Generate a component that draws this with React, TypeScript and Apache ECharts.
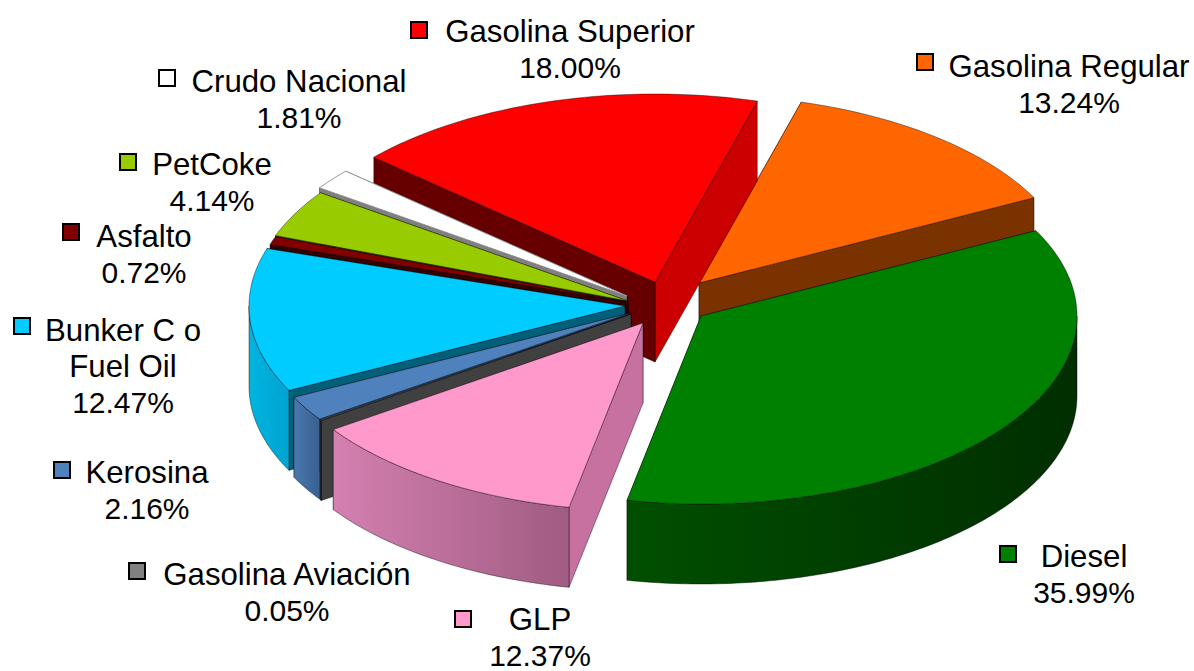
import React, { useEffect, useRef } from "react";
import * as echarts from "echarts";

// Data, in the pie's clockwise order
const categories = [
  "Diesel", "GLP", "Gasolina Aviación", "Kerosina", "Bunker C o\nFuel Oil",
  "Asfalto", "PetCoke", "Crudo Nacional", "Gasolina Superior", "Gasolina Regular",
];
const values = [35.99, 12.37, 0.05, 2.16, 12.47, 0.72, 4.14, 1.81, 18.0, 13.24];

// Styling
const topColors = ["#008000", "#ff99cc", "#808080", "#4f81bd", "#00ccff", "#800000", "#99cc00", "#ffffff", "#ff0000", "#ff6600"];
const rimColors: [string, string][] = [
  ["#004f00", "#002e00"], ["#d480b0", "#a05c82"], ["#404040", "#404040"], ["#4a78ae", "#386090"],
  ["#00b4e0", "#00a4d0"], ["#330000", "#330000"], ["#5c7a00", "#5c7a00"], ["#999999", "#999999"],
  ["#800000", "#800000"], ["#7a3300", "#7a3300"],
];
const startFaceColors = ["#004400", "#c6719f", "#404040", "#3a6090", "#00607a", "#330000", "#4d6600", "#808080", "#660000", "#7a3300"];
const endFaceColors = ["#004400", "#c6719f", "#404040", "#3a6090", "#00607a", "#330000", "#4d6600", "#808080", "#cc0000", "#7a3300"];
const sliceShift: [number, number][] = [
  [29, 16], [-29, 23], [-41, 14], [-42, 13], [-47, 6], [-44, 2], [-44, 1], [-45, -4], [-17, -18], [27, -17],
];
const paintOrder = [9, 8, 7, 6, 5, 4, 3, 2, 1, 0];
const labelCenters: [number, number][] = [
  [1084, 574], [540, 637], [287, 592], [147, 490], [123, 366], [144, 254], [212, 182], [299, 99], [570, 49], [1069, 84],
];
const keyCenters: [number, number][] = [
  [1008, 554], [463, 619], [137, 571], [62, 470], [22, 326], [71, 232], [128, 162], [167, 78], [419, 30], [925, 62],
];

const CX = 672, CY = 300, RX = 376, RY = 188, DEPTH = 80, START = -27;
const LINE_HEIGHT = 36;
const total = values.reduce((a, b) => a + b, 0);

function renderItem(_params: any, api: any) {
  const i = api.value(0);
  const before = values.slice(0, i).reduce((a, b) => a + b, 0);
  const a0 = START + (before / total) * 360;
  const a1 = a0 + (api.value(1) / total) * 360;
  const ox = CX + sliceShift[i][0], oy = CY + sliceShift[i][1];
  const pt = (deg: number, d = 0): number[] => {
    const t = (deg * Math.PI) / 180;
    return [ox + RX * Math.cos(t), oy + RY * Math.sin(t) + d];
  };
  const arc = (from: number, to: number, d = 0) => {
    const n = Math.max(2, Math.ceil(Math.abs(to - from)));
    return Array.from({ length: n + 1 }, (_, k) => pt(from + ((to - from) * k) / n, d));
  };
  const edge = "rgba(0,0,0,0.4)";
  const face = (deg: number, fill: string) => ({
    type: "polygon",
    shape: { points: [[ox, oy], pt(deg), pt(deg, DEPTH), [ox, oy + DEPTH]] },
    style: { fill, stroke: edge, lineWidth: 1 },
  });
  // The cut face nearer the viewer is painted last
  const sin = (deg: number) => Math.sin((deg * Math.PI) / 180);
  const startFace = face(a0, startFaceColors[i]);
  const endFace = face(a1, endFaceColors[i]);
  const children: any[] = sin(a0) > sin(a1) ? [endFace, startFace] : [startFace, endFace];
  // Outer wall: only the part of the arc facing the viewer
  const frontParts: [number, number][] = [];
  for (let base = -360; base <= 360; base += 360) {
    const f = Math.max(a0, base), t = Math.min(a1, base + 180);
    if (t > f) frontParts.push([f, t]);
  }
  frontParts.forEach(([f, t]) => {
    children.push({
      type: "polygon",
      shape: { points: [...arc(f, t), ...arc(t, f, DEPTH)] },
      style: {
        fill: new echarts.graphic.LinearGradient(0, 0, 1, 0, [
          { offset: 0, color: rimColors[i][0] },
          { offset: 1, color: rimColors[i][1] },
        ]),
        stroke: edge,
        lineWidth: 1,
      },
    });
  });
  children.push({
    type: "polygon",
    shape: { points: [[ox, oy], ...arc(a0, a1)] },
    style: { fill: topColors[i], stroke: i === 7 ? "#999999" : edge, lineWidth: 1 },
  });
  return { type: "group", children };
}

export default function App() {
  const ref = useRef<HTMLDivElement>(null);
  useEffect(() => {
    document.body.style.margin = "0";
    const chart = echarts.init(ref.current!, undefined, { renderer: "svg" });
    const family = '"Liberation Sans", Arial, sans-serif';
    chart.setOption({
      animation: false,
      backgroundColor: "#ffffff",
      series: [
        {
          type: "custom",
          coordinateSystem: "none",
          silent: true,
          renderItem,
          data: paintOrder.map((i) => [i, values[i]]),
        },
      ],
      graphic: {
        elements: categories.flatMap((name, i) => {
          const lines = [...name.split("\n"), `${values[i].toFixed(2)}%`];
          return [
            {
              type: "rect",
              z: 10,
              shape: { x: keyCenters[i][0] - 8, y: keyCenters[i][1] - 8, width: 16, height: 16 },
              style: { fill: topColors[i], stroke: "#000000", lineWidth: 2 },
            },
            ...lines.map((text, k) => ({
              type: "text",
              z: 10,
              x: labelCenters[i][0],
              y: labelCenters[i][1] + (k - (lines.length - 1) / 2) * LINE_HEIGHT,
              style: {
                text,
                font: `${k === lines.length - 1 ? 30 : 31.2}px ${family}`,
                fill: "#000000",
                align: "center",
                verticalAlign: "middle",
              },
            })),
          ];
        }),
      },
    });
    return () => chart.dispose();
  }, []);
  return <div ref={ref} style={{ position: "fixed", left: 0, top: 0, width: 1194, height: 671 }} />;
}
